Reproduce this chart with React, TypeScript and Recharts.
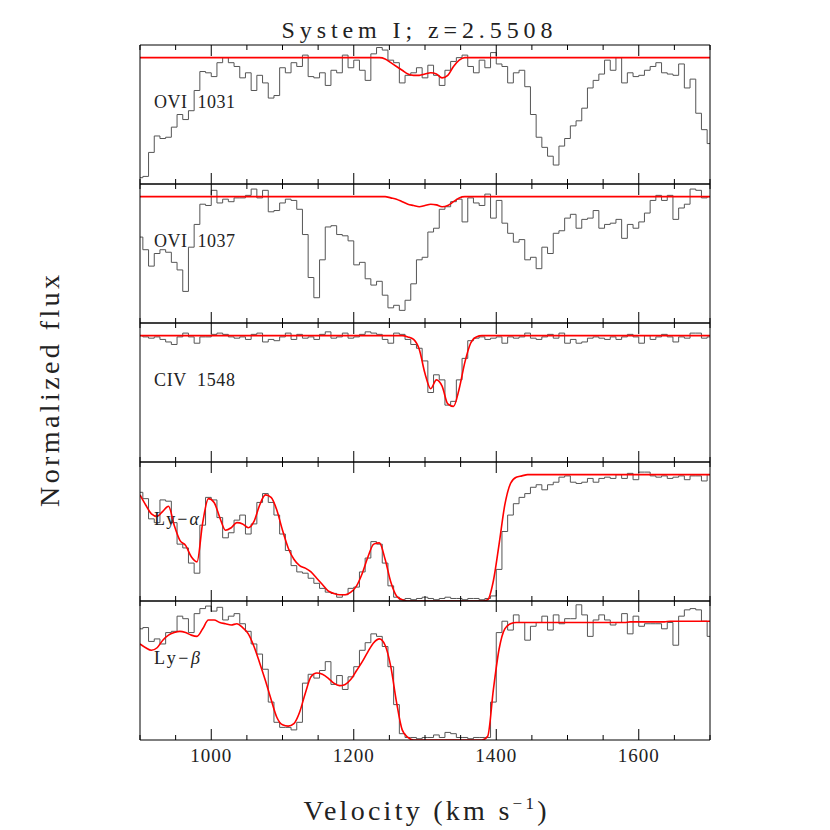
import React from 'react';
import { LineChart, Line, XAxis, YAxis } from 'recharts';

// pixel grid of the spectra (km/s)
const VELOCITY = [
  900, 908, 916, 924, 932, 940, 948, 956, 964, 972, 980, 988, 996, 1004, 1012, 1020, 1028, 1036, 1044, 1052,
  1060, 1068, 1076, 1084, 1092, 1100, 1108, 1116, 1124, 1132, 1140, 1148, 1156, 1164, 1172, 1180, 1188, 1196, 1204, 1212,
  1220, 1228, 1236, 1244, 1252, 1260, 1268, 1276, 1284, 1292, 1300, 1308, 1316, 1324, 1332, 1340, 1348, 1356, 1364, 1372,
  1380, 1388, 1396, 1404, 1412, 1420, 1428, 1436, 1444, 1452, 1460, 1468, 1476, 1484, 1492, 1500, 1508, 1516, 1524, 1532,
  1540, 1548, 1556, 1564, 1572, 1580, 1588, 1596, 1604, 1612, 1620, 1628, 1636, 1644, 1652, 1660, 1668, 1676, 1684, 1692,
  1700,
];

const TICKS = [900, 950, 1000, 1050, 1100, 1150, 1200, 1250, 1300, 1350, 1400, 1450, 1500, 1550, 1600, 1650, 1700];
const MAJOR_TICKS = [1000, 1200, 1400, 1600];

const OVI1031_FLUX = [
  0.05, 0.06, 0.25, 0.38, 0.36, 0.37, 0.45, 0.55, 0.51, 0.58, 0.74, 0.89, 0.88, 0.85, 0.96, 1.0, 0.96, 0.93, 0.84, 0.88,
  0.74, 0.86, 0.8, 0.68, 0.7, 0.92, 0.88, 0.96, 0.93, 1.02, 0.85, 0.84, 0.88, 0.78, 0.9, 0.88, 1.02, 0.92, 0.98, 0.9,
  0.82, 1.03, 1.08, 1.06, 0.98, 0.96, 0.8, 0.86, 0.88, 0.92, 0.84, 0.94, 0.86, 0.78, 0.9, 0.97, 1.0, 1.02, 0.93, 0.88,
  0.98, 0.92, 1.04, 0.95, 0.93, 0.8, 0.88, 0.9, 0.77, 0.55, 0.37, 0.29, 0.22, 0.15, 0.3, 0.36, 0.46, 0.5, 0.6, 0.76,
  0.82, 0.87, 0.98, 0.9, 1.0, 0.8, 0.88, 0.85, 0.86, 0.9, 0.93, 0.96, 0.88, 0.87, 0.86, 0.95, 0.76, 0.83, 0.56, 0.43,
  0.32,
];
const OVI1031_FIT = [
  1, 1, 1, 1, 1, 1, 1, 1, 1, 1, 1, 1, 1, 1, 1, 1, 1, 1, 1, 1,
  1, 1, 1, 1, 1, 1, 1, 1, 1, 1, 1, 1, 1, 1, 1, 1, 1, 1, 1, 1,
  1, 1, 1, 0.99, 0.96, 0.93, 0.9, 0.87, 0.86, 0.86, 0.87, 0.88, 0.87, 0.84, 0.86, 0.93, 0.98, 1, 1, 1,
  1, 1, 1, 1, 1, 1, 1, 1, 1, 1, 1, 1, 1, 1, 1, 1, 1, 1, 1, 1,
  1, 1, 1, 1, 1, 1, 1, 1, 1, 1, 1, 1, 1, 1, 1, 1, 1, 1, 1, 1,
  1,
];

const OVI1037_FLUX = [
  0.68, 0.58, 0.45, 0.55, 0.58, 0.56, 0.48, 0.42, 0.25, 0.6, 0.78, 0.94, 0.93, 1.05, 0.95, 0.98, 0.96, 0.99, 0.99, 1.01,
  1.06, 0.99, 1.05, 0.88, 0.89, 0.95, 0.98, 0.97, 0.9, 0.7, 0.36, 0.2, 0.5, 0.76, 0.77, 0.7, 0.69, 0.65, 0.46, 0.48,
  0.35, 0.3, 0.33, 0.22, 0.12, 0.14, 0.1, 0.18, 0.31, 0.5, 0.52, 0.72, 0.75, 0.9, 0.92, 0.96, 0.98, 0.8, 0.99, 0.95,
  0.93, 1.02, 0.83, 0.97, 0.79, 0.71, 0.64, 0.66, 0.5, 0.52, 0.43, 0.6, 0.55, 0.71, 0.73, 0.83, 0.86, 0.75, 0.82, 0.83,
  0.89, 0.75, 0.78, 0.79, 0.82, 0.67, 0.78, 0.75, 0.8, 0.87, 0.97, 1.01, 0.97, 1.01, 0.82, 0.91, 0.94, 1.06, 1.05, 0.99,
  1.0,
];
const OVI1037_FIT = [
  1, 1, 1, 1, 1, 1, 1, 1, 1, 1, 1, 1, 1, 1, 1, 1, 1, 1, 1, 1,
  1, 1, 1, 1, 1, 1, 1, 1, 1, 1, 1, 1, 1, 1, 1, 1, 1, 1, 1, 1,
  1, 1, 1, 1, 0.99, 0.98, 0.96, 0.94, 0.93, 0.92, 0.93, 0.94, 0.935, 0.92, 0.93, 0.96, 0.99, 1, 1, 1,
  1, 1, 1, 1, 1, 1, 1, 1, 1, 1, 1, 1, 1, 1, 1, 1, 1, 1, 1, 1,
  1, 1, 1, 1, 1, 1, 1, 1, 1, 1, 1, 1, 1, 1, 1, 1, 1, 1, 1, 1,
  1,
];

const CIV1548_FLUX = [
  1.0, 0.99, 0.98, 0.99, 0.97, 0.95, 0.93, 0.99, 1.02, 0.99, 0.94, 0.99, 0.99, 1.01, 1.02, 1.01, 0.99, 0.98, 0.99, 0.97,
  1.01, 1.02, 0.95, 0.97, 0.96, 0.99, 1.02, 0.97, 1.01, 0.98, 0.99, 0.97, 1.01, 1.03, 0.98, 0.99, 1.02, 0.98, 0.99, 1.01,
  1.03, 1.02, 1.01, 0.97, 0.94, 1.02, 1.01, 0.97, 0.93, 0.9, 0.8, 0.55, 0.69, 0.65, 0.45, 0.48, 0.65, 0.82, 0.96, 0.98,
  0.99, 0.97, 0.98, 0.99, 0.94, 0.99, 0.98, 0.99, 1.02, 0.98, 0.97, 0.99, 1.01, 0.98, 1.02, 0.94, 0.97, 0.94, 0.95, 0.98,
  0.99, 0.98, 0.97, 0.99, 0.97, 0.99, 1.01, 0.99, 0.94, 1.0, 0.97, 0.99, 1.01, 0.99, 0.95, 0.99, 0.98, 1.02, 1.02, 0.98,
  0.99,
];
const CIV1548_FIT = [
  1, 1, 1, 1, 1, 1, 1, 1, 1, 1, 1, 1, 1, 1, 1, 1, 1, 1, 1, 1,
  1, 1, 1, 1, 1, 1, 1, 1, 1, 1, 1, 1, 1, 1, 1, 1, 1, 1, 1, 1,
  1, 1, 1, 1, 1, 1, 1, 0.99, 0.97, 0.89, 0.7, 0.58, 0.65, 0.6, 0.46, 0.44, 0.58, 0.79, 0.94, 0.99,
  1, 1, 1, 1, 1, 1, 1, 1, 1, 1, 1, 1, 1, 1, 1, 1, 1, 1, 1, 1,
  1, 1, 1, 1, 1, 1, 1, 1, 1, 1, 1, 1, 1, 1, 1, 1, 1, 1, 1, 1,
  1,
];

const LYA_FLUX = [
  0.86, 0.81, 0.65, 0.62, 0.8, 0.79, 0.62, 0.45, 0.42, 0.3, 0.22, 0.6, 0.82, 0.8, 0.66, 0.5, 0.54, 0.64, 0.68, 0.53,
  0.61, 0.78, 0.85, 0.78, 0.68, 0.53, 0.4, 0.28, 0.23, 0.22, 0.18, 0.14, 0.1, 0.07, 0.06, 0.03, 0.05, 0.1, 0.11, 0.23,
  0.34, 0.47, 0.45, 0.3, 0.12, 0.03, 0.01, 0.02, 0.01, 0.02, 0.03, 0.02, 0.01, 0.02, 0.03, 0.02, 0.02, 0.01, 0.02, 0.02,
  0.01, 0.02, 0.04, 0.25, 0.55, 0.68, 0.77, 0.82, 0.85, 0.9, 0.92, 0.88, 0.92, 0.94, 0.98, 0.99, 0.94, 0.93, 0.94, 0.97,
  0.94, 0.97, 0.98, 0.97, 1.0, 0.97, 1.01, 0.96, 1.02, 1.02, 0.99, 0.98, 0.99, 0.97, 0.98, 0.99, 0.96, 0.99, 0.99, 0.95,
  1.0,
];
const LYA_FIT = [
  0.84, 0.76, 0.69, 0.67, 0.71, 0.75, 0.6, 0.48, 0.44, 0.35, 0.31, 0.62, 0.81, 0.78, 0.66, 0.56, 0.58, 0.62, 0.61, 0.58,
  0.63, 0.76, 0.84, 0.82, 0.72, 0.56, 0.42, 0.33, 0.28, 0.26, 0.23, 0.18, 0.13, 0.08, 0.06, 0.05, 0.05, 0.07, 0.12, 0.22,
  0.35, 0.45, 0.46, 0.33, 0.15, 0.04, 0.01, 0, 0, 0, 0, 0, 0, 0, 0, 0, 0, 0, 0, 0,
  0, 0.01, 0.16, 0.45, 0.76, 0.93, 0.98, 0.99, 1, 1, 1, 1, 1, 1, 1, 1, 1, 1, 1, 1,
  1, 1, 1, 1, 1, 1, 1, 1, 1, 1, 1, 1, 1, 1, 1, 1, 1, 1, 1, 1,
  1,
];

const LYB_FLUX = [
  0.88, 0.89, 0.78, 0.8, 0.76, 0.85, 0.86, 0.98, 0.96, 0.85, 1.0, 1.04, 1.06, 1.02, 1.05, 0.95, 0.98, 1.0, 0.92, 0.86,
  0.76, 0.68, 0.56, 0.3, 0.14, 0.1, 0.1, 0.08, 0.14, 0.45, 0.52, 0.49, 0.55, 0.62, 0.44, 0.51, 0.4, 0.5, 0.58, 0.71,
  0.77, 0.84, 0.82, 0.74, 0.58, 0.28, 0.05, 0.02, 0.02, 0.01, 0.02, 0.02, 0.04, 0.02, 0.06, 0.05, 0.02, 0.02, 0.01, 0.02,
  0.02, 0.02, 0.3, 0.85, 0.94, 0.87, 0.99, 0.93, 0.79, 0.9, 0.93, 0.98, 0.87, 0.99, 0.92, 0.96, 0.96, 1.07, 0.99, 0.82,
  0.95, 0.99, 0.95, 0.91, 0.93, 1.0, 0.84, 0.98, 0.9, 0.92, 0.92, 0.92, 0.88, 0.93, 0.75, 0.98, 1.03, 1.04, 1.03, 0.94,
  0.82,
];
const LYB_FIT = [
  0.76, 0.73, 0.71, 0.73, 0.79, 0.83, 0.85, 0.86, 0.85, 0.83, 0.82, 0.88, 0.95, 0.95, 0.93, 0.92, 0.91, 0.92, 0.89, 0.84,
  0.74, 0.61, 0.47, 0.32, 0.18, 0.12, 0.11, 0.13, 0.22, 0.37, 0.5, 0.53, 0.52, 0.49, 0.45, 0.43, 0.44, 0.48, 0.55, 0.62,
  0.7, 0.77, 0.8, 0.75, 0.58, 0.3, 0.08, 0.02, 0, 0, 0, 0, 0, 0, 0, 0, 0, 0, 0, 0,
  0, 0.03, 0.4, 0.72, 0.88, 0.92, 0.93, 0.93, 0.93, 0.93, 0.93, 0.93, 0.93, 0.93, 0.93, 0.93, 0.93, 0.93, 0.93, 0.93,
  0.93, 0.93, 0.93, 0.93, 0.93, 0.93, 0.935, 0.935, 0.935, 0.935, 0.935, 0.935, 0.935, 0.94, 0.94, 0.94, 0.94, 0.94, 0.94, 0.94,
  0.94,
];

const PANELS = [
  { label: 'OVI  1031', labelWidth: 81, flux: OVI1031_FLUX, fit: OVI1031_FIT },
  { label: 'OVI  1037', labelWidth: 81, flux: OVI1037_FLUX, fit: OVI1037_FIT },
  { label: 'CIV  1548', labelWidth: 81, flux: CIV1548_FLUX, fit: CIV1548_FIT },
  { label: 'Ly-α', labelWidth: 45, flux: LYA_FLUX, fit: LYA_FIT },
  { label: 'Ly-β', labelWidth: 46, flux: LYB_FLUX, fit: LYB_FIT },
];

const LEFT = 140;
const TOP = 45;
const PLOT_W = 570;
const PANEL_H = 139;
const PAD = 6;
const FONT = "'Liberation Serif', 'DejaVu Serif', serif";
const INK = '#222';

// tick marks point into the panel; labels only under the last one
const TickMark = (props: any) => {
  const { x, y, payload, dir, showLabel } = props;
  const major = MAJOR_TICKS.includes(payload.value);
  const len = major ? 11 : 5;
  return (
    <g>
      <line x1={x} x2={x} y1={y} y2={y + dir * len} stroke="#000" strokeWidth={1} />
      {showLabel && major && (
        <text x={x} y={y + 22} textAnchor="middle" fontSize={19} fontFamily={FONT} fill={INK} letterSpacing={1}>
          {payload.value}
        </text>
      )}
    </g>
  );
};

const PanelLabel = ({ text }: { text: string }) => {
  if (text.startsWith('Ly')) {
    return (
      <>
        Ly−<tspan fontStyle="italic">{text.slice(3)}</tspan>
      </>
    );
  }
  return <>{text}</>;
};

const Panel = ({ index }: { index: number }) => {
  const panel = PANELS[index];
  const last = index === PANELS.length - 1;
  const rows = VELOCITY.map((v, i) => ({ v, flux: panel.flux[i], fit: panel.fit[i] }));
  const extra = last ? 30 : 0;
  return (
    <div style={{ position: 'absolute', left: LEFT - PAD, top: TOP + index * PANEL_H - PAD }}>
      <LineChart
        width={PLOT_W + 2 * PAD}
        height={PANEL_H + 2 * PAD + extra}
        data={rows}
        margin={{ top: PAD - 1, right: PAD - 1, bottom: PAD - 1 + extra, left: PAD - 1 }}
      >
        <XAxis
          dataKey="v"
          type="number"
          domain={[900, 1700]}
          ticks={TICKS}
          interval={0}
          height={1}
          tickSize={0}
          tickMargin={0}
          tickLine={false}
          axisLine={{ stroke: '#000' }}
          allowDataOverflow
          tick={(p: any) => <TickMark {...p} dir={-1} showLabel={last} />}
        />
        <XAxis
          xAxisId="top"
          orientation="top"
          dataKey="v"
          type="number"
          domain={[900, 1700]}
          ticks={TICKS}
          interval={0}
          height={1}
          tickSize={0}
          tickMargin={0}
          tickLine={false}
          axisLine={{ stroke: '#000' }}
          allowDataOverflow
          tick={(p: any) => <TickMark {...p} dir={1} showLabel={false} />}
        />
        <YAxis domain={[0, 1.1]} width={1} tick={false} tickLine={false} axisLine={{ stroke: '#000' }} allowDataOverflow />
        <YAxis
          yAxisId="right"
          orientation="right"
          domain={[0, 1.1]}
          width={1}
          tick={false}
          tickLine={false}
          axisLine={{ stroke: '#000' }}
          allowDataOverflow
        />
        <Line dataKey="flux" type="step" stroke="#555" strokeWidth={1} dot={false} activeDot={false} isAnimationActive={false} />
        <Line dataKey="fit" type="monotone" stroke="#ff0000" strokeWidth={1.6} dot={false} activeDot={false} isAnimationActive={false} />
      </LineChart>
    </div>
  );
};

export default function App() {
  return (
    <div style={{ position: 'absolute', left: 0, top: 0, width: 830, height: 830, background: '#fff' }}>
      {PANELS.map((_, i) => (
        <Panel key={i} index={i} />
      ))}
      <svg width={830} height={830} style={{ position: 'absolute', left: 0, top: 0, pointerEvents: 'none' }}>
        <g fontFamily={FONT} fill={INK}>
          <text x={417} y={38} fontSize={24} textAnchor="middle" textLength={271} lengthAdjust="spacing">
            System I; z=2.5508
          </text>
          {PANELS.map((p, i) => (
            <text
              key={p.label}
              x={154}
              y={TOP + i * PANEL_H + 63}
              fontSize={18}
              textLength={p.labelWidth}
              lengthAdjust="spacing"
              style={{ whiteSpace: 'pre' }}
            >
              <PanelLabel text={p.label} />
            </text>
          ))}
          <text x={425} y={820} fontSize={28} textAnchor="middle" textLength={243} lengthAdjust="spacing">
            Velocity (km s<tspan fontSize={17} dy={-11}>−1</tspan>
            <tspan dy={11}>)</tspan>
          </text>
          <text
            transform="rotate(-90)"
            x={-391}
            y={59}
            fontSize={28}
            textAnchor="middle"
            textLength={232}
            lengthAdjust="spacing"
          >
            Normalized flux
          </text>
        </g>
      </svg>
    </div>
  );
}
